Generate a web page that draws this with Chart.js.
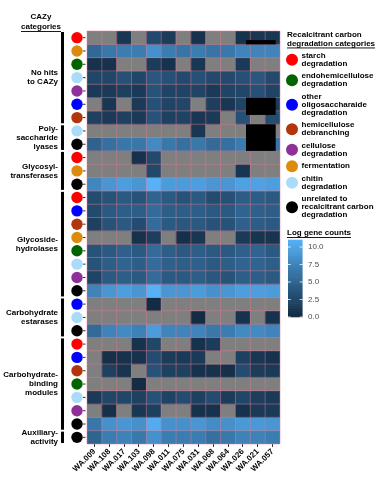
<!DOCTYPE html>
<html>
<head>
<meta charset="utf-8">
<script src="https://cdn.jsdelivr.net/npm/chart.js@4.4.0/dist/chart.umd.min.js"></script>
<style>
  html, body { margin: 0; padding: 0; background: #fff; }
</style>
</head>
<body>
<canvas id="heat" width="381" height="502"></canvas>
<script>
const FONT = "'Liberation Sans', Arial, Helvetica, sans-serif";

const SAMPLES = ['WA.009','WA.108','WA.017','WA.103','WA.098','WA.011','WA.075','WA.031','WA.068','WA.064','WA.026','WA.021','WA.057'];

const CATEGORY_KEYS   = ['starch','endo','other','hemi','cellulose','fermentation','chitin','unrelated'];
const CATEGORY_LABELS = [
  ['starch','degradation'],
  ['endohemicellulose','degradation'],
  ['other','oligosaccharaide','degradation'],
  ['hemicellulose','debranching'],
  ['cellulose','degradation'],
  ['fermentation'],
  ['chitin','degradation'],
  ['unrelated to','recalcitrant carbon','degradation'],
];
const CATEGORY_COLORS = ['#ff0000','#006400','#0000ff','#b3350c','#8f2f9a','#dc8b0c','#aadcfa','#000000'];

const GROUP_LABELS = [
  ['No hits','to CAZy'],
  ['Poly-','saccharide','lyases'],
  ['Glycosyl-','transferases'],
  ['Glycoside-','hydrolases'],
  ['Carbohydrate','estarases'],
  ['Carbohydrate-','binding','modules'],
  ['Auxiliary-','activity'],
];

// log gene counts per row, one entry per sample (null = no genes)
const NO_HITS_CATS = ['starch','fermentation','endo','chitin','cellulose','other','hemi'];
const NO_HITS = [
  [null,null,1.1,null,2.8,1.6,null,0.7,null,null,0.7,1.1,1.1],
  [5.3,6.6,7.0,7.0,8.5,7.0,6.3,7.0,6.3,6.6,7.6,7.6,7.6],
  [0.7,0.7,null,null,1.6,0.7,null,1.1,null,null,1.4,null,null],
  [2.5,2.5,3.3,2.5,3.9,3.3,2.8,3.3,2.8,2.8,3.3,3.9,2.8],
  [1.4,1.4,1.9,1.4,3.6,2.3,2.3,2.3,1.4,2.3,2.5,3.3,2.3],
  [null,1.1,null,1.4,3.4,2.3,2.5,null,1.8,1.1,2.3,1.4,1.4],
  [2.0,1.4,2.0,1.4,3.6,2.0,2.2,1.1,1.4,null,3.3,null,3.0],
];
const PL_CATS = ['chitin','unrelated'];
const PL = [
  [null,null,null,null,null,null,null,1.1,null,null,null,null,null],
  [4.8,6.0,6.5,6.5,8.0,6.6,6.0,6.6,5.5,6.0,6.9,6.6,6.3],
];
const GT_CATS = ['starch','fermentation','unrelated'];
const GT = [
  [null,null,null,0.7,2.8,null,null,null,null,null,null,null,null],
  [null,null,null,null,2.6,null,null,null,null,null,1.0,null,null],
  [7.8,9.0,9.6,9.0,11.0,9.4,9.4,9.6,9.0,9.0,9.8,9.8,9.6],
];
const GH_CATS = ['starch','other','hemi','fermentation','endo','chitin','cellulose','unrelated'];
const GH = [
  [3.0,3.6,4.1,3.6,5.0,4.1,3.6,4.1,3.0,3.4,4.4,4.4,4.1],
  [2.8,4.1,4.5,4.5,5.6,4.5,4.5,4.5,4.1,4.1,5.0,4.7,4.5],
  [2.0,3.6,4.1,3.0,5.6,4.1,3.9,4.1,3.6,3.6,4.7,4.4,4.1],
  [null,null,null,0.7,1.8,null,0.5,1.1,null,null,1.4,0.9,0.9],
  [3.6,4.1,4.7,4.1,5.6,4.5,4.1,4.5,4.1,4.1,4.7,5.0,4.1],
  [3.6,4.5,5.0,4.5,5.6,4.7,4.5,4.7,4.1,4.5,5.0,5.0,4.5],
  [2.3,4.1,4.5,4.1,5.6,4.1,4.1,4.5,3.9,3.6,4.5,4.5,4.1],
  [7.5,9.0,9.6,9.0,11.0,9.0,9.0,9.4,8.6,9.0,9.6,9.6,9.4],
];
const CE_CATS = ['other','chitin','unrelated'];
const CE = [
  [null,null,null,null,0.0,null,null,null,null,null,null,null,null],
  [null,null,null,null,null,null,null,0.0,null,null,0.7,null,0.7],
  [5.5,7.5,8.0,7.3,9.4,7.6,7.6,7.6,6.6,7.0,8.0,8.0,7.6],
];
const CBM_CATS = ['starch','other','hemi','endo','chitin','cellulose','unrelated'];
const CBM = [
  [null,null,null,0.7,2.5,null,null,0.7,1.6,null,null,null,null],
  [null,0.5,0.7,0.7,3.0,1.6,1.4,1.4,null,null,2.0,1.1,0.7],
  [null,2.0,0.9,null,3.6,2.0,2.0,0.7,0.7,0.5,3.0,1.6,1.4],
  [null,null,null,0.0,null,null,null,null,null,null,null,null,null],
  [1.4,2.5,2.5,2.0,3.5,2.2,3.0,2.0,3.0,1.6,2.5,1.8,1.4],
  [null,0.5,null,1.1,1.9,null,null,0.7,0.7,null,0.7,1.4,1.4],
  [6.5,8.6,9.0,8.6,10.6,8.6,8.6,9.0,8.2,8.6,9.2,9.2,9.0],
];
const AA_CATS = ['unrelated'];
const AA = [
  [5.0,7.0,7.4,6.6,8.5,7.0,7.0,7.0,6.0,6.6,7.4,7.4,7.0],
];

// solid black blocks over the tiles: [first column edge, last column edge, top row, bottom row]
const BLOCKS = [
  [10.21, 12.21, 0.68, 1.0],
  [10.21, 12.21, 5.0, 6.3],
  [10.21, 12.21, 7.0, 9.0],
];

const COLOR_TICKS = [0, 2.5, 5, 7.5, 10];

const GROUPS = [
  { cats: NO_HITS_CATS, vals: NO_HITS },
  { cats: PL_CATS,      vals: PL },
  { cats: GT_CATS,      vals: GT },
  { cats: GH_CATS,      vals: GH },
  { cats: CE_CATS,      vals: CE },
  { cats: CBM_CATS,     vals: CBM },
  { cats: AA_CATS,      vals: AA },
];
const ROWS = GROUPS.flatMap(g => g.vals);
const NROWS = ROWS.length;
const VMAX = Math.max(...ROWS.flat().filter(v => v !== null));
const VMIN = 0;

// ggplot-style gradient, interpolated in CIELAB
function hexRgb(h) { return [1, 3, 5].map(i => parseInt(h.slice(i, i + 2), 16)); }
function toLin(c) { c /= 255; return c <= 0.04045 ? c / 12.92 : Math.pow((c + 0.055) / 1.055, 2.4); }
function fromLin(c) {
  c = c <= 0.0031308 ? 12.92 * c : 1.055 * Math.pow(c, 1 / 2.4) - 0.055;
  return Math.round(Math.max(0, Math.min(1, c)) * 255);
}
function rgbLab(rgb) {
  const [r, g, b] = rgb.map(toLin);
  const x = (0.4124 * r + 0.3576 * g + 0.1805 * b) / 0.95047;
  const y = 0.2126 * r + 0.7152 * g + 0.0722 * b;
  const z = (0.0193 * r + 0.1192 * g + 0.9505 * b) / 1.08883;
  const f = t => t > 0.008856 ? Math.cbrt(t) : 7.787 * t + 16 / 116;
  const fx = f(x), fy = f(y), fz = f(z);
  return [116 * fy - 16, 500 * (fx - fy), 200 * (fy - fz)];
}
function labRgb([L, a, bb]) {
  const fy = (L + 16) / 116, fx = fy + a / 500, fz = fy - bb / 200;
  const fi = t => t * t * t > 0.008856 ? t * t * t : (t - 16 / 116) / 7.787;
  const x = fi(fx) * 0.95047, y = fi(fy), z = fi(fz) * 1.08883;
  const r =  3.2406 * x - 1.5372 * y - 0.4986 * z;
  const g = -0.9689 * x + 1.8758 * y + 0.0415 * z;
  const b =  0.0557 * x - 0.2040 * y + 1.0570 * z;
  return 'rgb(' + [r, g, b].map(fromLin).join(',') + ')';
}
const LAB_LO = rgbLab(hexRgb('#132B43'));
const LAB_HI = rgbLab(hexRgb('#56B1F7'));
function fillFor(v) {
  if (v === null) return '#7f7f7f';
  const t = Math.max(0, Math.min(1, (v - VMIN) / (VMAX - VMIN)));
  return labRgb(LAB_LO.map((l, i) => l + (LAB_HI[i] - l) * t));
}
function catColor(key) { return CATEGORY_COLORS[CATEGORY_KEYS.indexOf(key)]; }

function dot(ctx, x, y, r, color) {
  ctx.beginPath();
  ctx.arc(x, y, r, 0, Math.PI * 2);
  ctx.fillStyle = color;
  ctx.fill();
}
function underlined(ctx, text, x, y) {
  ctx.fillText(text, x, y);
  const w = ctx.measureText(text).width;
  const x0 = ctx.textAlign === 'center' ? x - w / 2 : x;
  ctx.fillRect(x0, y + 4, w, 0.9);
}

const tileLines = {
  id: 'tileLines',
  afterDatasetsDraw(chart) {
    const { ctx, scales: { x, y } } = chart;
    ctx.save();
    ctx.strokeStyle = 'rgba(222,125,145,0.6)';
    ctx.lineWidth = 0.8;
    const top = y.getPixelForValue(0), bot = y.getPixelForValue(NROWS);
    const left = x.getPixelForValue(-0.5), right = x.getPixelForValue(SAMPLES.length - 0.5);
    ctx.beginPath();
    for (let i = 0; i <= SAMPLES.length; i++) {
      const px = x.getPixelForValue(i - 0.5);
      ctx.moveTo(px, top); ctx.lineTo(px, bot);
    }
    for (let j = 0; j <= NROWS; j++) {
      const py = y.getPixelForValue(j);
      ctx.moveTo(left, py); ctx.lineTo(right, py);
    }
    ctx.stroke();
    ctx.fillStyle = '#000';
    BLOCKS.forEach(([c0, c1, r0, r1]) => {
      const x0 = x.getPixelForValue(c0), x1 = x.getPixelForValue(c1);
      const y0 = y.getPixelForValue(r0), y1 = y.getPixelForValue(r1);
      ctx.fillRect(x0, y0, x1 - x0, y1 - y0);
    });
    ctx.restore();
  },
};

const annotations = {
  id: 'annotations',
  afterDraw(chart) {
    const { ctx, scales: { y } } = chart;
    ctx.save();
    ctx.textBaseline = 'middle';

    // left header
    ctx.fillStyle = '#000';
    ctx.font = `bold 8px ${FONT}`;
    ctx.textAlign = 'center';
    ctx.fillText('CAZy', 41, 17);
    underlined(ctx, 'categories', 41, 27);

    // row groups, category dots and ticks
    let k = 0;
    GROUPS.forEach((g, gi) => {
      const top = y.getPixelForValue(k), bot = y.getPixelForValue(k + g.cats.length);
      ctx.fillStyle = '#000';
      ctx.fillRect(61, top + 1, 3, bot - top - 2);
      const lines = GROUP_LABELS[gi];
      const mid = (top + bot) / 2;
      ctx.textAlign = 'right';
      ctx.font = `bold 8px ${FONT}`;
      lines.forEach((t, i) => ctx.fillText(t, 58, mid + (i - (lines.length - 1) / 2) * 9));
      g.cats.forEach((c, i) => {
        const cy = y.getPixelForValue(k + i + 0.5);
        dot(ctx, 77, cy, 5.7, catColor(c));
        ctx.fillStyle = '#333';
        ctx.fillRect(83, cy - 0.5, 2.5, 1);
      });
      k += g.cats.length;
    });

    // right legend: categories
    ctx.textAlign = 'left';
    ctx.fillStyle = '#000';
    ctx.font = `bold 8px ${FONT}`;
    ctx.fillText('Recalcitrant carbon', 287, 35);
    underlined(ctx, 'degradation categories', 287, 43.5);
    let yy = 49.5;
    CATEGORY_LABELS.forEach((lines, i) => {
      const h = Math.max(lines.length * 8 + 4.5, 10);
      const cy = yy + h / 2;
      dot(ctx, 292, cy, 6, CATEGORY_COLORS[i]);
      ctx.fillStyle = '#000';
      lines.forEach((t, j) => ctx.fillText(t, 301.5, cy + (j - (lines.length - 1) / 2) * 8));
      yy += h;
    });

    // right legend: colour bar
    ctx.fillStyle = '#000';
    underlined(ctx, 'Log gene counts', 287, 233);
    const bx = 288, bw = 14.5, bTop = 240, bBot = 317;
    const n = 40;
    for (let i = 0; i < n; i++) {
      const v0 = VMIN + (VMAX - VMIN) * i / n;
      const y1 = bBot - (bBot - bTop) * i / n;
      const y0 = bBot - (bBot - bTop) * (i + 1) / n;
      ctx.fillStyle = fillFor(v0 + (VMAX - VMIN) / (2 * n));
      ctx.fillRect(bx, y0 - 0.3, bw, y1 - y0 + 0.6);
    }
    ctx.font = `8px ${FONT}`;
    COLOR_TICKS.forEach(v => {
      const py = bBot - (v - VMIN) / (VMAX - VMIN) * (bBot - bTop);
      ctx.fillStyle = '#fff';
      ctx.fillRect(bx, py - 0.4, 2.8, 0.8);
      ctx.fillRect(bx + bw - 2.8, py - 0.4, 2.8, 0.8);
      ctx.fillStyle = '#4d4d4d';
      ctx.fillText(v.toFixed(1), 308, py);
    });
    ctx.restore();
  },
};

const datasets = ROWS.map(vals => ({
  data: SAMPLES.map(() => 1),
  backgroundColor: vals.map(fillFor),
  borderWidth: 0,
  barPercentage: 1,
  categoryPercentage: 1,
  stack: 'tiles',
}));

new Chart(document.getElementById('heat'), {
  type: 'bar',
  data: { labels: SAMPLES, datasets },
  options: {
    responsive: false,
    animation: false,
    events: [],
    layout: { padding: { left: 87, right: 101, top: 31, bottom: 0 } },
    plugins: { legend: { display: false }, tooltip: { enabled: false } },
    scales: {
      x: {
        stacked: true,
        offset: true,
        grid: { offset: false, drawOnChartArea: false, tickLength: 3, color: '#333', lineWidth: 1 },
        border: { display: false },
        ticks: {
          color: '#000',
          font: { family: FONT, size: 8, weight: 'bold' },
          minRotation: 45, maxRotation: 45, autoSkip: false, padding: 0,
        },
        afterFit: s => { s.height = 58; },
      },
      y: { stacked: true, display: false, min: 0, max: NROWS, reverse: true },
    },
  },
  plugins: [tileLines, annotations],
});
</script>
</body>
</html>
